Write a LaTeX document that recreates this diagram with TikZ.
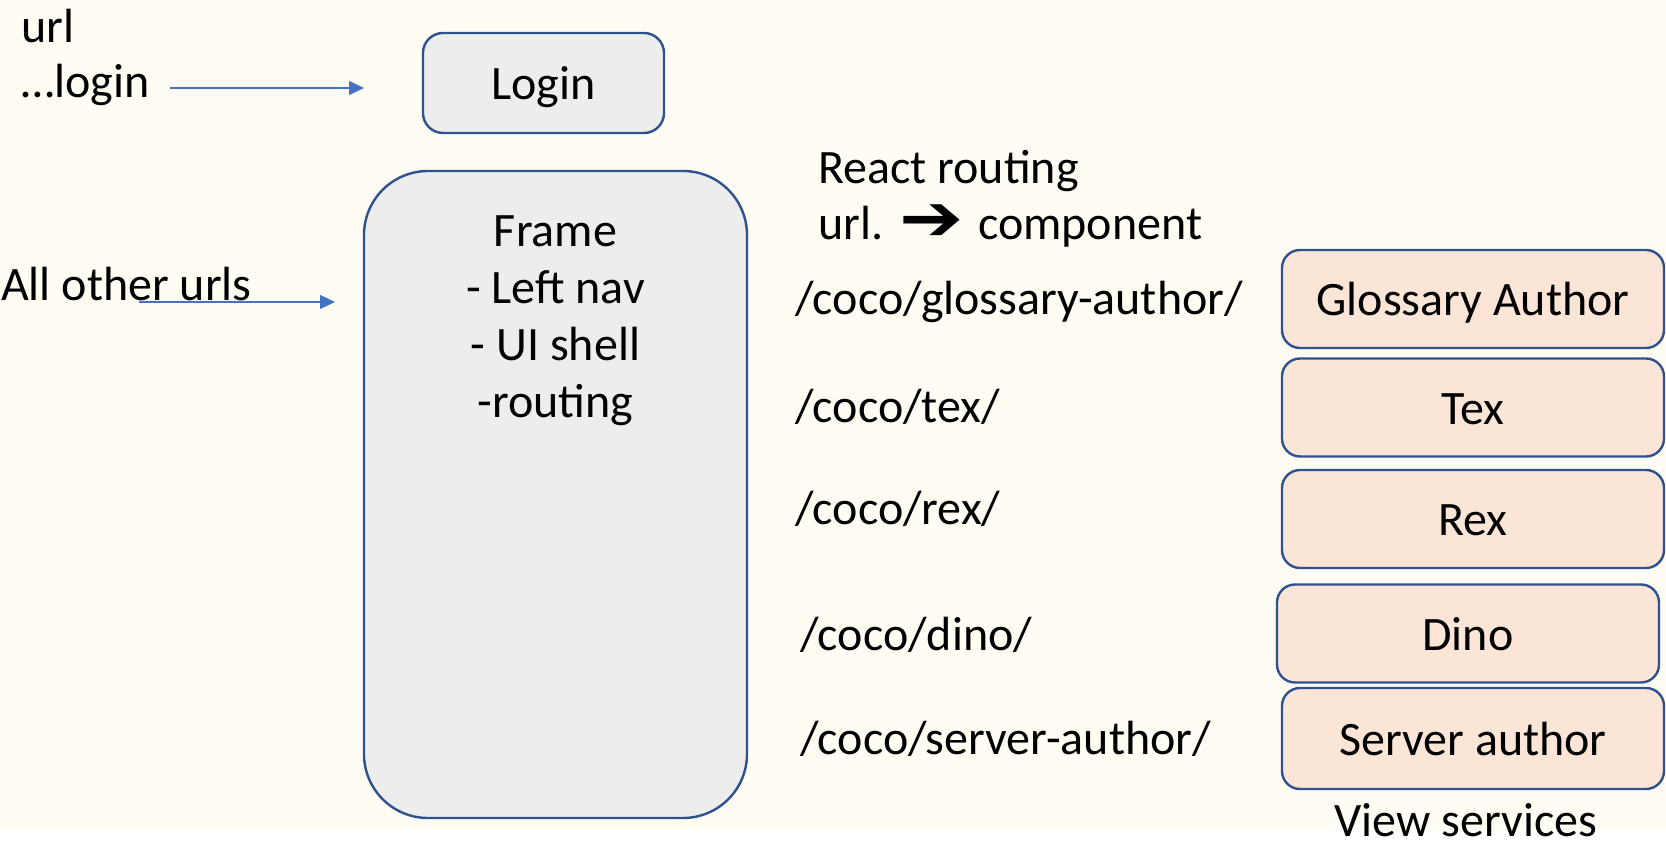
\documentclass[tikz,border=0pt]{standalone}
\usepackage{fontspec}
\usepackage{graphicx}
\setmainfont{Carlito}
\newfontfamily\symfont{DejaVu Sans}
\usetikzlibrary{arrows.meta}

\definecolor{slidebg}{HTML}{FFFCF4}
\definecolor{boxline}{HTML}{2F528F}
\definecolor{greyfill}{HTML}{EDEDED}
\definecolor{peachfill}{HTML}{FBE5D6}
\definecolor{arrowblue}{HTML}{4472C4}

\tikzset{
  label text/.style={anchor=base west, inner sep=0pt, text=black},
  greybox/.style={draw=boxline, line width=2.4pt, fill=greyfill, rounded corners=20pt, inner sep=0pt},
  boxed text/.style={text height=33pt, text depth=0pt},
  viewbox/.style={draw=boxline, line width=2.4pt, fill=peachfill, rounded corners=18pt,
                  minimum width=382pt, minimum height=98pt, inner sep=0pt, boxed text},
  flow/.style={draw=arrowblue, line width=1.2pt, -{Triangle[length=15pt,width=14pt]}},
}

\begin{document}
\begin{tikzpicture}[x=1pt, y=-1pt, font=\fontsize{48}{57}\selectfont]
  % canvas
  \useasboundingbox (0,0) rectangle (1666,845);
  \fill[white] (0,0) rectangle (1666,845);
  \fill[slidebg] (0,0) rectangle (1666,830);

  % entry urls
  \node[label text] (urlhead) at (21,43) {url};
  \node[label text] (loginurl) at (21,98) {\dots login};
  \node[label text] (otherurls) at (1,300) {All other urls};

  % login page
  \node[greybox, boxed text, minimum width=241pt, minimum height=100pt] (login) at (543.5,83) {Login};

  % application frame
  \node[greybox, rounded corners=64pt, minimum width=383pt, minimum height=647pt] (frame) at (555.5,494.5) {};
  \node[anchor=north, align=center, inner sep=0pt] (frametext) at (555.5,216)
    {Frame\\- Left nav\\- UI shell\\-routing};

  % arrows into the pages
  \coordinate (loginfrom) at (170,88);
  \coordinate (loginto) at (364,88);
  \draw[flow] (loginfrom) -- (loginto);
  \coordinate (otherfrom) at (139,302);
  \coordinate (otherto) at (335,302);
  \draw[flow] (otherfrom) -- (otherto);

  % routing legend
  \node[label text] (routinghead) at (818,184) {React routing};
  \node[label text] (routingrule) at (818,240)
    {url.\hspace{16.5pt}\raisebox{-1pt}{\scalebox{1.6}[1.35]{\symfont ➔}}\hspace{14pt}component};

  % routes
  \node[label text] (routega)  at (795,314) {/coco/glossary-author/};
  \node[label text] (routetex) at (795,422) {/coco/tex/};
  \node[label text] (routerex) at (795,524) {/coco/rex/};
  \node[label text] (routedino) at (800,650) {/coco/dino/};
  \node[label text] (routesa)  at (800,754) {/coco/server-author/};

  % view services
  \node[viewbox] (ga)   at (1473,299) {Glossary Author};
  \node[viewbox] (tex)  at (1473,407.5) {Tex};
  \node[viewbox] (rex)  at (1473,519) {Rex};
  \node[viewbox] (dino) at (1468,633.5) {Dino};
  \node[viewbox, minimum height=101pt] (sa) at (1473,738.5) {Server author};
  \node[anchor=base, inner sep=0pt] (viewlabel) at (1466,836) {View services};
\end{tikzpicture}
\end{document}
